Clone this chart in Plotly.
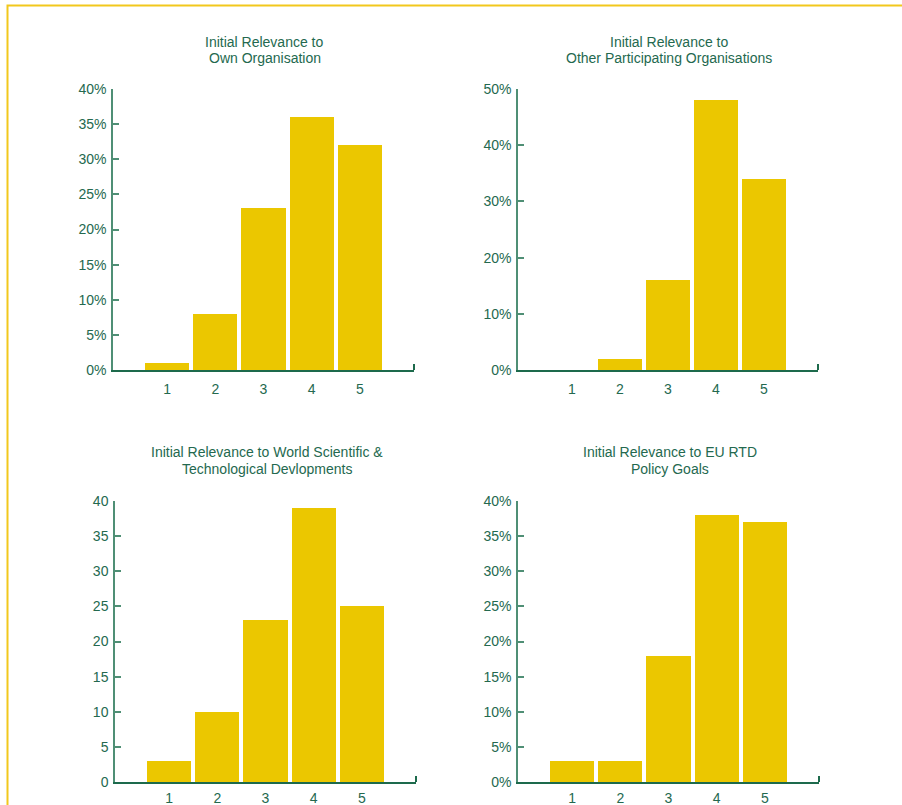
import plotly.graph_objects as go

W, H = 902, 805

categories = [1, 2, 3, 4, 5]
own_org = [1, 8, 23, 36, 32]
other_orgs = [0, 2, 16, 48, 34]
world_st = [3, 10, 23, 39, 25]
eu_rtd = [3, 3, 18, 38, 37]

title_lines = [
    ["Initial Relevance to", "Own Organisation"],
    ["Initial Relevance to", "Other Participating Organisations"],
    ["Initial Relevance to World Scientific &", "Technological Devlopments"],
    ["Initial Relevance to EU RTD", "Policy Goals"],
]

BAR = "#EBC700"
TXT = "#24694f"
XLINE = "#1d6a4c"
YLINE = "#4f8f75"
FONT = "Liberation Sans, Arial, sans-serif"

# pixel boxes: (left, right, top, bottom)
boxes = [(113, 414, 89, 370), (518, 818, 89, 370), (115, 416, 501, 782), (518, 819, 501, 782)]
series = [own_org, other_orgs, world_st, eu_rtd]
ymax = [40, 50, 40, 40]
dticks = [5, 10, 5, 5]
suffix = ["%", "%", "", "%"]
title_y = [(42, 58), (42, 58), (452, 469), (452, 469)]
xstandoff = [5, 5, 2, 2]

fig = go.Figure()
XR = [-0.125, 6.125]
for i in range(4):
    l, r, t, b = boxes[i]
    xa = "x" if i == 0 else f"x{i+1}"
    ya = "y" if i == 0 else f"y{i+1}"
    fig.add_trace(go.Bar(x=categories, y=series[i], width=0.92, marker=dict(color=BAR, line=dict(width=0)),
                         xaxis=xa, yaxis=ya, showlegend=False, hoverinfo="skip"))
    xk = "xaxis" if i == 0 else f"xaxis{i+1}"
    yk = "yaxis" if i == 0 else f"yaxis{i+1}"
    fig.layout[xk] = dict(domain=[l / W, r / W], anchor=ya, range=XR, showgrid=False, zeroline=False,
                          showline=True, linecolor=XLINE, linewidth=2, automargin=False,
                          tickmode="array", tickvals=categories, ticks="", ticklabelstandoff=xstandoff[i],
                          tickfont=dict(family=FONT, size=14, color=TXT),
                          minor=dict(tickmode="array", tickvals=[6.12], ticks="inside", ticklen=6,
                                     tickcolor=XLINE, tickwidth=2, showgrid=False))
    fig.layout[yk] = dict(domain=[1 - b / H, 1 - t / H], anchor=xa, range=[0, ymax[i]], showgrid=False,
                          zeroline=False, showline=True, linecolor=YLINE, linewidth=1.5, automargin=False,
                          tickmode="linear", tick0=0, dtick=dticks[i], ticks="inside", ticklen=6,
                          tickcolor=YLINE, tickwidth=1.5, ticksuffix=suffix[i], ticklabelstandoff=2,
                          tickfont=dict(family=FONT, size=14, color=TXT))
    for k in range(2):
        fig.add_annotation(text=title_lines[i][k], xref="paper", yref="paper", x=((l + r) / 2 + 1) / W,
                           y=1 - title_y[i][k] / H, xanchor="center", yanchor="middle", showarrow=False,
                           font=dict(family=FONT, size=14, color=TXT))

fig.add_shape(type="rect", xref="paper", yref="paper", x0=7.5 / W, x1=1.2, y0=-0.2, y1=1 - 5.5 / H,
              line=dict(color="#F2C81C", width=2), fillcolor="rgba(0,0,0,0)", layer="below")

fig.update_layout(width=W, height=H, margin=dict(l=0, r=0, t=0, b=0, pad=0, autoexpand=False),
                  paper_bgcolor="white", plot_bgcolor="white", bargap=0)
fig.write_html("out.html")
